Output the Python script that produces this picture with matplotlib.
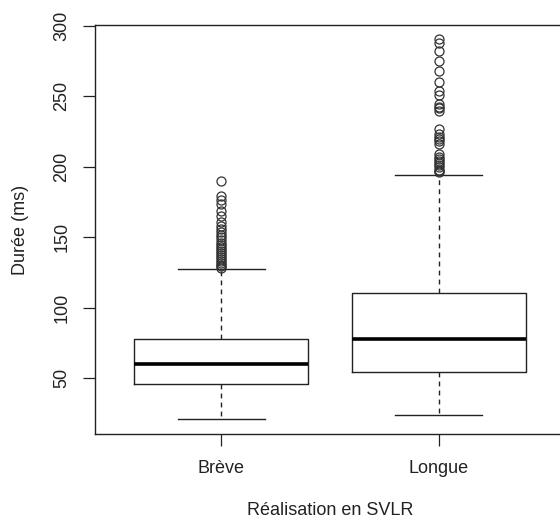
import matplotlib
matplotlib.use('Agg')
import matplotlib.pyplot as plt

categories = ['Brève', 'Longue']
whisker_low = [21.5, 24.3]
q1 = [45.8, 54.5]
median = [60.2, 78.1]
q3 = [77.8, 110.2]
whisker_high = [127.4, 193.9]
outliers_breve = [190, 179, 176.5, 173.5, 169, 165, 161, 158, 156, 154, 152, 150,
                  148, 146, 144.5, 143, 142, 140.5, 139, 137.5, 136, 134.5, 133,
                  131.5, 130.5, 129.5, 128.5]
outliers_longue = [290.6, 287.5, 282.3, 275.2, 268.2, 260, 254, 251.2, 244.6,
                   242.5, 241.8, 239.4, 226.9, 223.4, 221, 219.5, 218.6, 216.3,
                   209.2, 207, 205.5, 204, 202.5, 201, 199.5, 198, 197, 196.2]
yticks = [50, 100, 150, 200, 250, 300]
xlabel = 'Réalisation en SVLR'
ylabel = 'Durée (ms)'

plt.rcParams['font.family'] = ['Liberation Sans', 'DejaVu Sans']

fig = plt.figure(figsize=(5.6, 5.2), dpi=100)
ax = fig.add_axes([95 / 560, 86 / 520, 470 / 560, 409 / 520])

outs = [outliers_breve, outliers_longue]
stats = []
for i, lab in enumerate(categories):
    stats.append(dict(label=lab, whislo=whisker_low[i], q1=q1[i], med=median[i],
                      q3=q3[i], whishi=whisker_high[i], fliers=outs[i]))

col = '#222222'
ax.bxp(stats, positions=[1, 2], widths=0.8, capwidths=0.4, showfliers=True,
       boxprops=dict(color=col, linewidth=1.0),
       medianprops=dict(color='black', linewidth=2.6, solid_capstyle='butt'),
       whiskerprops=dict(color=col, linewidth=1.0, linestyle=(0, (3.5, 3))),
       capprops=dict(color=col, linewidth=1.0),
       flierprops=dict(marker='o', markerfacecolor='none', markeredgecolor='#333333',
                       markersize=6.5, markeredgewidth=0.9, linestyle='none'))

ax.set_xlim(0.42, 2.58)
ax.set_ylim(10.6, 300.5)
ax.set_yticks(yticks)
ax.set_yticklabels([str(v) for v in yticks], rotation=90, va='center', fontsize=13)
ax.set_xticks([1, 2])
ax.set_xticklabels(categories, fontsize=13)
ax.tick_params(axis='both', length=8.6, width=0.9, color=col, labelcolor='#222222')
ax.tick_params(axis='y', pad=9)
ax.tick_params(axis='x', pad=10)
for s in ax.spines.values():
    s.set_color(col)
    s.set_linewidth(1.0)

ax.set_xlabel(xlabel, fontsize=13, labelpad=18, color='#222222')
ax.set_ylabel(ylabel, fontsize=13, labelpad=18, color='#222222')

fig.savefig('out.png', dpi=100)
